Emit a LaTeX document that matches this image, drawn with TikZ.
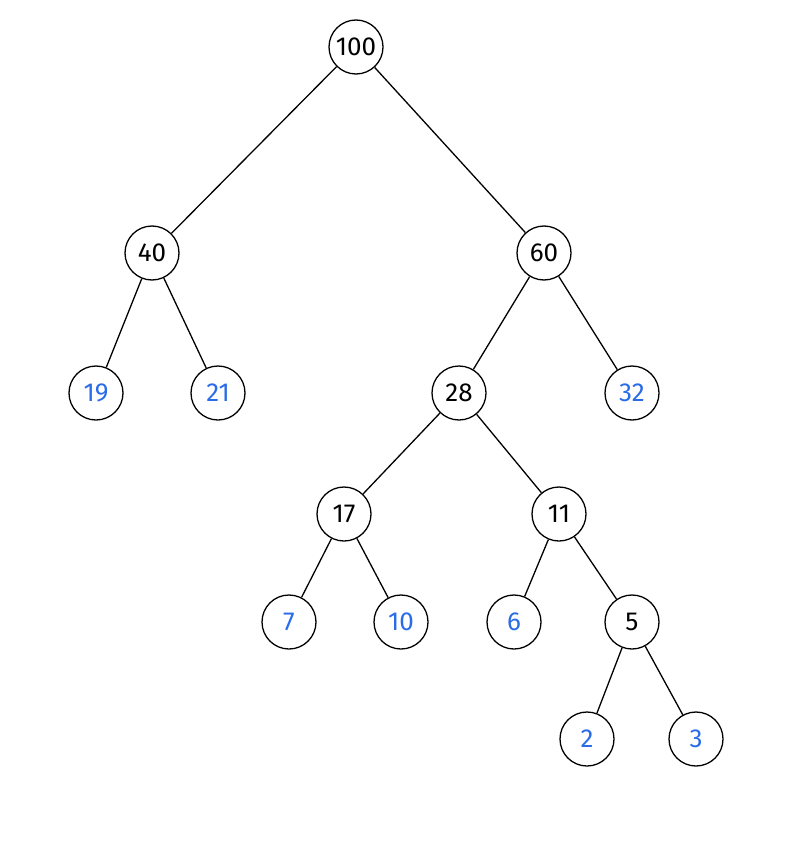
\documentclass[tikz,border=0pt]{standalone}
\usepackage{fontspec}
\setmainfont{Fira Sans}
\definecolor{leafblue}{HTML}{2A6CE8}
\begin{document}
\begin{tikzpicture}[x=1pt,y=-1pt,
  nd/.style={circle,draw=black,line width=1.3pt,minimum size=54pt,inner sep=0pt,fill=white,font=\fontsize{26}{26}\selectfont},
  leaf/.style={nd,text=leafblue},
  edge/.style={line width=1.3pt}]
\useasboundingbox (0,0) rectangle (809,843);
\node[nd] (n100) at (356,47) {100};
\node[nd] (n40) at (152,253) {40};
\node[nd] (n60) at (544,253) {60};
\node[leaf] (n19) at (96,393) {19};
\node[leaf] (n21) at (218,393) {21};
\node[nd] (n28) at (459,393) {28};
\node[leaf] (n32) at (632,393) {32};
\node[nd] (n17) at (344,514) {17};
\node[nd] (n11) at (559,514) {11};
\node[leaf] (n7) at (289,622) {7};
\node[leaf] (n10) at (401,622) {10};
\node[leaf] (n6) at (514,622) {6};
\node[nd] (n5) at (632,622) {5};
\node[leaf] (n2) at (587,739) {2};
\node[leaf] (n3) at (696,739) {3};
\draw[edge] (n100) -- (n40);
\draw[edge] (n100) -- (n60);
\draw[edge] (n40) -- (n19);
\draw[edge] (n40) -- (n21);
\draw[edge] (n60) -- (n28);
\draw[edge] (n60) -- (n32);
\draw[edge] (n28) -- (n17);
\draw[edge] (n28) -- (n11);
\draw[edge] (n17) -- (n7);
\draw[edge] (n17) -- (n10);
\draw[edge] (n11) -- (n6);
\draw[edge] (n11) -- (n5);
\draw[edge] (n5) -- (n2);
\draw[edge] (n5) -- (n3);
\end{tikzpicture}
\end{document}
